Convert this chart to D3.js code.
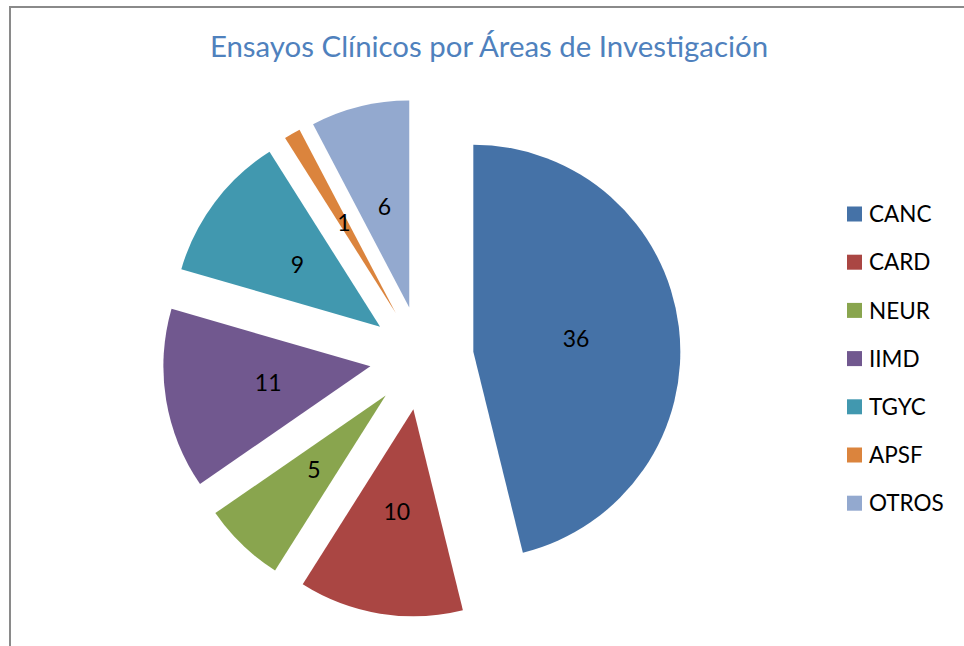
<!DOCTYPE html>
<html>
<head>
<meta charset="utf-8">
<script src="https://cdn.jsdelivr.net/npm/d3@7"></script>
<style>
  html, body { margin: 0; padding: 0; background: #fff; }
  svg { display: block; font-family: Lato, "Open Sans", sans-serif; }
</style>
</head>
<body>
<svg id="chart" width="964" height="646"></svg>
<script>
var areas = ['CANC', 'CARD', 'NEUR', 'IIMD', 'TGYC', 'APSF', 'OTROS'];
var ensayos = [36, 10, 5, 11, 9, 1, 6];
var colores = ['#4572A7', '#AA4643', '#89A54E', '#71588F', '#4198AF', '#DB843D', '#93A9CF'];
const TITULO = 'Ensayos Clínicos por Áreas de Investigación';

const svg = d3.select('#chart');
const R = 207, EXPLODE = 52;
const cx = 421.7, cy = 358;

// marco del grafico (recortado a la derecha y abajo)
svg.append('rect')
  .attr('x', 10).attr('y', 7)
  .attr('width', 1000).attr('height', 1000)
  .attr('fill', 'none')
  .attr('stroke', '#8a8a8a')
  .attr('stroke-width', 2);

svg.append('text')
  .attr('x', 489).attr('y', 57)
  .attr('text-anchor', 'middle')
  .attr('fill', '#4F81BD')
  .style('font-size', '29.4px')
  .text(TITULO);

const color = d3.scaleOrdinal().domain(areas).range(colores);
const data = areas.map((a, i) => ({ area: a, value: ensayos[i] }));
const pie = d3.pie().sort(null).value(d => d.value);
const arc = d3.arc().innerRadius(0).outerRadius(R);

const g = svg.append('g').attr('transform', `translate(${cx},${cy})`);

const slices = g.selectAll('g.slice')
  .data(pie(data))
  .enter()
  .append('g')
  .attr('class', 'slice')
  .attr('transform', function(d) {
    const mid = (d.startAngle + d.endAngle) / 2;
    return `translate(${EXPLODE * Math.sin(mid)},${-EXPLODE * Math.cos(mid)})`;
  });

slices.append('path')
  .attr('d', arc)
  .attr('fill', d => color(d.data.area));

slices.append('text')
  .attr('transform', d => `translate(${arc.centroid(d)})`)
  .attr('text-anchor', 'middle')
  .attr('dy', '0.35em')
  .attr('fill', '#000')
  .style('font-size', '23px')
  .text(d => d.data.value);

// leyenda
const legend = svg.append('g').attr('transform', 'translate(847,214)');
const item = legend.selectAll('g')
  .data(areas)
  .enter()
  .append('g')
  .attr('transform', (d, i) => `translate(0,${i * 48.2})`);

item.append('rect')
  .attr('x', 0).attr('y', -7.5)
  .attr('width', 15).attr('height', 15)
  .attr('fill', d => color(d));

item.append('text')
  .attr('x', 22).attr('dy', '0.36em')
  .attr('fill', '#000')
  .style('font-size', '22.5px')
  .text(d => d);
</script>
</body>
</html>
